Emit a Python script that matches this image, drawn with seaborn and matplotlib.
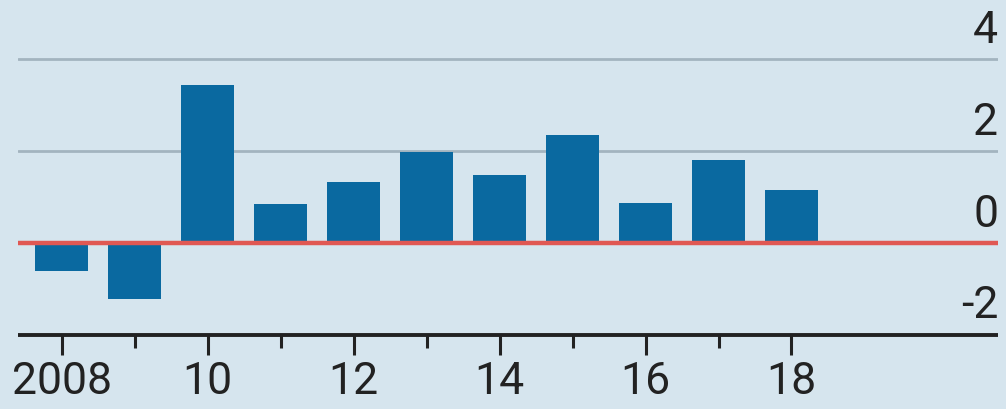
"""Bar chart of annual change, 2008-2018."""

import matplotlib
matplotlib.use('Agg')
import matplotlib.pyplot as plt
import seaborn as sns

# data
years = [2008, 2009, 2010, 2011, 2012, 2013, 2014, 2015, 2016, 2017, 2018]
values = [-0.62, -1.22, 3.44, 0.85, 1.32, 1.98, 1.47, 2.34, 0.86, 1.81, 1.15]
xtick_years = [2008, 2010, 2012, 2014, 2016, 2018]
xtick_labels = ['2008', '10', '12', '14', '16', '18']
ytick_values = [-2, 0, 2, 4]
ytick_labels = ['-2', '0', '2', '4']

BG = '#d6e5ee'
BAR = '#0a69a0'
RED = '#e05853'
GRID = '#a3b4bf'
INK = '#222222'

sns.set_theme(style='white')
plt.rcParams['font.family'] = ['Roboto', 'DejaVu Sans']

fig = plt.figure(figsize=(10.06, 4.10), dpi=100, facecolor=BG)
ax = fig.add_axes([18 / 1006, 0.181, 980 / 1006, 0.819])
ax.set_facecolor(BG)

sns.barplot(x=years, y=values, native_scale=True, width=0.73, color=BAR,
            saturation=1, edgecolor='none', linewidth=0, ax=ax, zorder=2)

ax.set_xlim(2007.4, 2020.83)
ax.set_ylim(-2, 5.31)

# gridlines and zero line
for v in ytick_values:
    if v > 0:
        ax.axhline(v, color=GRID, lw=2, zorder=1)
ax.axhline(0, color=RED, lw=3.2, zorder=3)

for side in ['left', 'right', 'top']:
    ax.spines[side].set_visible(False)
ax.spines['bottom'].set_color(INK)
ax.spines['bottom'].set_linewidth(2.8)
ax.spines['bottom'].set_capstyle('butt')

ax.set_xticks(xtick_years)
ax.set_xticklabels(xtick_labels)
ax.set_xticks([y for y in years if y not in xtick_years], minor=True)
ax.tick_params(axis='x', which='major', length=14.5, width=2.2, color=INK,
               labelsize=32, labelcolor=INK, pad=4, direction='out', bottom=True)
ax.tick_params(axis='x', which='minor', length=9, width=2.2, color=INK,
               direction='out', bottom=True)
ax.set_yticks([])
ax.set_xlabel('')
ax.set_ylabel('')

# y labels sit above their lines, flush right
for v, lbl in zip(ytick_values, ytick_labels):
    ax.annotate(lbl, xy=(1.0, v), xycoords=('axes fraction', 'data'),
                xytext=(0, 6), textcoords='offset points',
                ha='right', va='bottom', fontsize=32, color=INK,
                annotation_clip=False)

fig.savefig('out.png', dpi=100, facecolor=BG)
